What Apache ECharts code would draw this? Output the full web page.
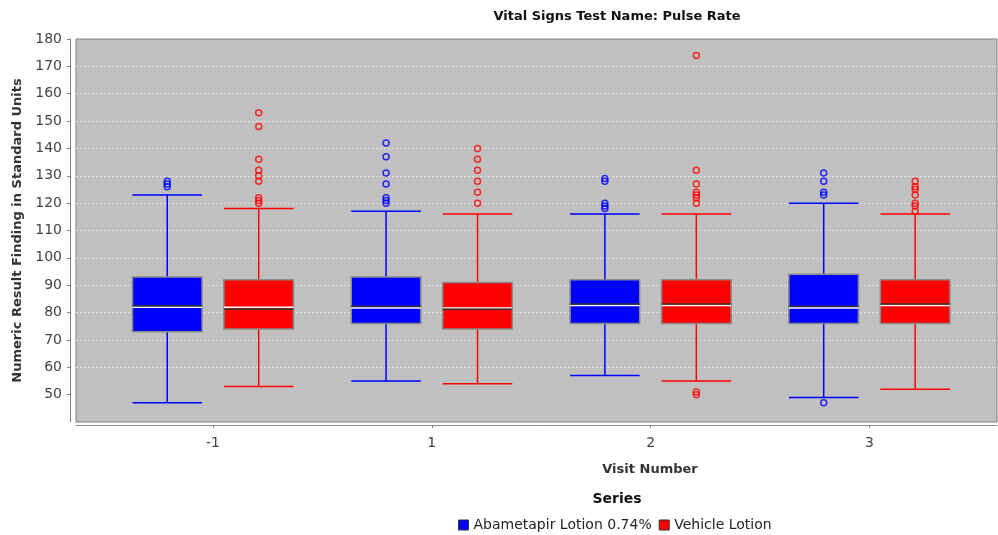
<!DOCTYPE html>
<html>
<head>
<meta charset="utf-8">
<script src="https://cdn.jsdelivr.net/npm/echarts@6/dist/echarts.min.js"></script>
<style>
html, body { margin: 0; padding: 0; background: #fff; }
#chart { width: 998px; height: 535px; }
</style>
</head>
<body>
<div id="chart"></div>
<script>
const visits = ['-1', '1', '2', '3']
const yTicks = [50, 60, 70, 80, 90, 100, 110, 120, 130, 140, 150, 160, 170, 180]

// Abametapir Lotion 0.74%
const blueLow = [47, 55, 57, 49]
const blueQ1 = [73, 76, 76, 76]
const blueMedian = [82.5, 82.3, 83.1, 82.3]
const blueMean = [81.9, 81.7, 82.6, 81.7]
const blueQ3 = [93, 93, 92, 94]
const blueHigh = [123, 117, 116, 120]
const blueOutliers = [
  [126, 127, 128],
  [120, 121, 122, 127, 131, 137, 142],
  [118, 119, 120, 128, 129],
  [47, 123, 124, 128, 131]
]

// Vehicle Lotion
const redLow = [53, 54, 55, 52]
const redQ1 = [74, 74, 76, 76]
const redMedian = [81.2, 81.2, 83.1, 83.1]
const redMean = [81.9, 81.7, 82.6, 82.6]
const redQ3 = [92, 91, 92, 92]
const redHigh = [118, 116, 116, 116]
const redOutliers = [
  [120, 121, 122, 128, 130, 132, 136, 148, 153],
  [120, 124, 128, 132, 136, 140],
  [50, 51, 120, 122, 123, 124, 127, 132, 174],
  [117, 119, 120, 123, 125, 126, 128]
]

const BLUE = '#0000ff'
const RED = '#ff0000'
const FONT = '"DejaVu Sans", sans-serif'
const BOX_HALF = 0.159   // half box width, in category units
const SHIFT = 0.209      // box offset from category centre

function boxRows(low, q1, med, q3, high, mean) {
  return visits.map((v, i) => [i, low[i], q1[i], med[i], q3[i], high[i], mean[i]])
}

function outlierRows(list, shift) {
  const rows = []
  list.forEach((vals, i) => vals.forEach((v) => rows.push([i + shift, v])))
  return rows
}

function boxRenderer(shift, color) {
  return function (params, api) {
    const x = api.value(0) + shift
    const halfW = api.size([BOX_HALF, 0])[0]
    const cx = api.coord([x, 0])[0]
    const yOf = (dim) => api.coord([x, api.value(dim)])[1]
    const left = cx - halfW
    const right = cx + halfW
    const line = (x1, y1, x2, y2, stroke, w) => ({
      type: 'line',
      shape: { x1, y1, x2, y2 },
      style: { stroke, lineWidth: w }
    })
    const low = yOf(1), q1 = yOf(2), q3 = yOf(4), high = yOf(5)
    return {
      type: 'group',
      children: [
        line(cx, high, cx, q3, color, 1.5),
        line(cx, q1, cx, low, color, 1.5),
        line(left, high, right, high, color, 1.5),
        line(left, low, right, low, color, 1.5),
        {
          type: 'rect',
          shape: { x: left, y: q3, width: right - left, height: q1 - q3 },
          style: { fill: color, stroke: '#8a8a8a', lineWidth: 1.5 }
        },
        line(left, yOf(6), right, yOf(6), '#ffffff', 1.5),
        line(left, yOf(3), right, yOf(3), '#333333', 1.5)
      ]
    }
  }
}

const chart = echarts.init(document.getElementById('chart'))

const option = {
  animation: false,
  backgroundColor: '#ffffff',
  grid: {
    left: 76, right: 1, top: 39, bottom: 113,
    show: true,
    backgroundColor: '#c0c0c0',
    borderColor: '#808080',
    borderWidth: 1
  },
  legend: {
    data: ['Abametapir Lotion 0.74%', 'Vehicle Lotion'],
    left: 458,
    top: 518,
    padding: 0,
    icon: 'rect',
    itemWidth: 10,
    itemHeight: 10,
    itemGap: 7,
    itemStyle: { borderColor: '#333', borderWidth: 1 },
    textStyle: { fontFamily: FONT, fontSize: 14, color: '#222' }
  },
  xAxis: {
    type: 'value',
    min: -0.626,
    max: 3.583,
    offset: 3,
    axisLine: { show: true, onZero: false, lineStyle: { color: '#8c8c8c' } },
    axisTick: { show: true, length: 3, customValues: [0, 1, 2, 3], lineStyle: { color: '#808080' } },
    axisLabel: {
      customValues: [0, 1, 2, 3],
      formatter: (v) => visits[Math.round(v)],
      margin: 11,
      fontFamily: FONT,
      fontSize: 14,
      color: '#444'
    },
    splitLine: { show: false }
  },
  yAxis: {
    type: 'value',
    min: 40,
    max: 180,
    interval: 10,
    offset: 6,
    name: 'Numeric Result Finding in Standard Units',
    nameLocation: 'middle',
    nameGap: 46,
    nameTextStyle: { fontFamily: FONT, fontSize: 13, fontWeight: 'bold', color: '#333' },
    axisLine: { show: true, onZero: false, lineStyle: { color: '#808080' } },
    axisTick: { show: true, length: 3, customValues: yTicks, lineStyle: { color: '#808080' } },
    axisLabel: {
      customValues: yTicks,
      margin: 8,
      fontFamily: FONT,
      fontSize: 14,
      color: '#444'
    },
    splitLine: {
      show: true,
      showMinLine: false,
      showMaxLine: false,
      lineStyle: { color: '#e2e2e2', width: 1, type: [2, 2] }
    }
  },
  graphic: [
    {
      type: 'text', x: 617, y: 17,
      style: {
        text: 'Vital Signs Test Name: Pulse Rate',
        font: 'bold 13px ' + FONT, fill: '#111',
        align: 'center', verticalAlign: 'middle',
        textAlign: 'center', textVerticalAlign: 'middle'
      }
    },
    {
      type: 'text', x: 650, y: 470,
      style: {
        text: 'Visit Number',
        font: 'bold 13px ' + FONT, fill: '#333',
        align: 'center', verticalAlign: 'middle',
        textAlign: 'center', textVerticalAlign: 'middle'
      }
    },
    {
      type: 'text', x: 617, y: 499,
      style: {
        text: 'Series',
        font: 'bold 14px ' + FONT, fill: '#111',
        align: 'center', verticalAlign: 'middle',
        textAlign: 'center', textVerticalAlign: 'middle'
      }
    }
  ],
  series: [
    {
      name: 'Abametapir Lotion 0.74%',
      type: 'custom',
      itemStyle: { color: BLUE },
      encode: { x: 0, y: [1, 2, 3, 4, 5, 6] },
      data: boxRows(blueLow, blueQ1, blueMedian, blueQ3, blueHigh, blueMean),
      renderItem: boxRenderer(-SHIFT, BLUE)
    },
    {
      name: 'Vehicle Lotion',
      type: 'custom',
      itemStyle: { color: RED },
      encode: { x: 0, y: [1, 2, 3, 4, 5, 6] },
      data: boxRows(redLow, redQ1, redMedian, redQ3, redHigh, redMean),
      renderItem: boxRenderer(SHIFT, RED)
    },
    {
      name: 'Abametapir Lotion 0.74%',
      type: 'scatter',
      symbol: 'circle',
      symbolSize: 6,
      itemStyle: { color: 'transparent', borderColor: BLUE, borderWidth: 1.5 },
      data: outlierRows(blueOutliers, -SHIFT)
    },
    {
      name: 'Vehicle Lotion',
      type: 'scatter',
      symbol: 'circle',
      symbolSize: 6,
      itemStyle: { color: 'transparent', borderColor: RED, borderWidth: 1.5 },
      data: outlierRows(redOutliers, SHIFT)
    }
  ]
}

chart.setOption(option)
window.addEventListener('resize', () => chart.resize())
</script>
</body>
</html>
